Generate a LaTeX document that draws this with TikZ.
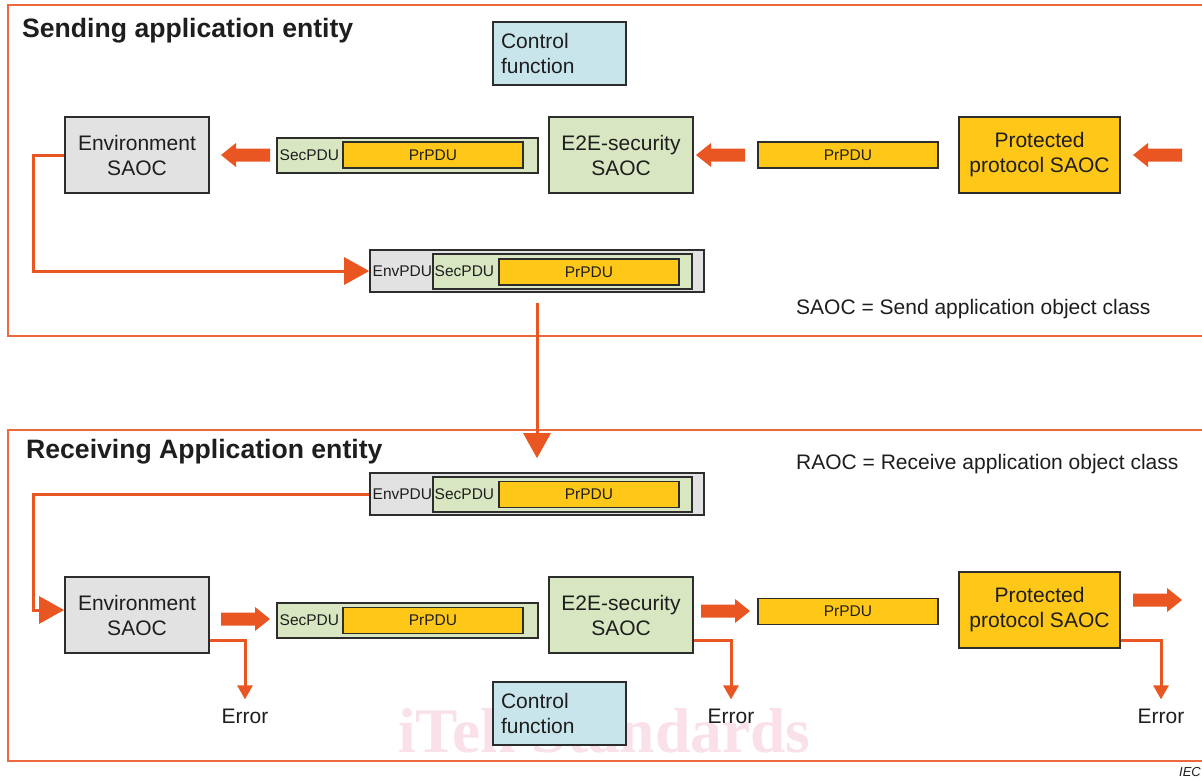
\documentclass[tikz,border=0pt]{standalone}
\usepackage{fontspec}
\setmainfont{Liberation Sans}
\newfontfamily\wmfont{Liberation Serif}
\usetikzlibrary{arrows.meta}
\definecolor{orangeC}{RGB}{234,86,34}
\definecolor{frameC}{RGB}{238,104,62}
\definecolor{lineC}{RGB}{45,45,45}
\definecolor{txtC}{RGB}{30,30,30}
\definecolor{envgray}{RGB}{226,226,226}
\definecolor{secgreen}{RGB}{216,231,193}
\definecolor{pryellow}{RGB}{255,200,24}
\definecolor{ctrlblue}{RGB}{201,229,236}
\definecolor{wmpink}{RGB}{250,224,232}
\tikzset{
  box/.style={draw=lineC, line width=1.8pt, inner sep=0pt, align=center, text=txtC,
    font=\fontsize{21}{25}\selectfont},
  envbox/.style={box, fill=envgray},
  e2ebox/.style={box, fill=secgreen},
  protbox/.style={box, fill=pryellow},
  ctrlbox/.style={box, fill=ctrlblue, align=left, text width=117pt, inner xsep=8pt,
    minimum width=133pt, minimum height=63pt},
  pdu/.style={draw=lineC, line width=1.6pt, inner sep=0pt, text=txtC,
    font=\fontsize{15.5}{18}\selectfont},
  pdulbl/.style={anchor=west, inner sep=0pt, text=txtC, font=\fontsize{15.5}{18}\selectfont},
  conn/.style={draw=orangeC, line width=3pt, -{Triangle[length=25pt,width=27pt]}},
  errc/.style={draw=orangeC, line width=3pt, -{Triangle[length=14pt,width=15pt]}},
  frame/.style={draw=frameC, line width=2pt},
  plain/.style={inner sep=0pt, text=txtC, font=\fontsize{21}{25}\selectfont},
  fatR/.pic={\fill[orangeC] (0,-6.5) -- (34,-6.5) -- (34,-12) -- (49,0) -- (34,12) -- (34,6.5) -- (0,6.5) -- cycle;},
  fatL/.pic={\fill[orangeC] (0,-6.5) -- (-34,-6.5) -- (-34,-12) -- (-49,0) -- (-34,12) -- (-34,6.5) -- (0,6.5) -- cycle;}
}
\begin{document}
\begin{tikzpicture}[x=1pt,y=-1pt]
\useasboundingbox[fill=white] (0,0) rectangle (1202,780);

% watermark
\node[anchor=base west, inner sep=0pt, text=wmpink, font=\wmfont\bfseries\fontsize{63.5}{64}\selectfont] (wm) at (398,752) {iTeh Standards};

% frames
\draw[frame] (1202,5) -- (8,5) -- (8,336) -- (1202,336);
\draw[frame] (1202,430) -- (8,430) -- (8,761) -- (1202,761);

% titles
\node[anchor=base west, inner sep=0pt, text=txtC, font=\bfseries\fontsize{26.6}{30}\selectfont] (t1) at (22,37) {Sending application entity};
\node[anchor=base west, inner sep=0pt, text=txtC, font=\bfseries\fontsize{26.6}{30}\selectfont] (t2) at (26,458) {Receiving Application entity};
\node[plain, anchor=base west] (leg1) at (796,314) {SAOC = Send application object class};
\node[plain, anchor=base west] (leg2) at (796,469) {RAOC = Receive application object class};
\node[anchor=base east, inner sep=0pt, text=txtC, font=\itshape\fontsize{13}{15}\selectfont] (iec) at (1201,776) {IEC};

% ---------------- sending side ----------------
\node[ctrlbox] (ctrlT) at (559.5,53.5) {Control\\function};
\node[envbox, minimum width=144pt, minimum height=76pt] (envT) at (137,155) {Environment\\SAOC};
\node[e2ebox, minimum width=144pt, minimum height=76pt] (e2eT) at (621,155) {E2E-security\\SAOC};
\node[protbox, minimum width=161pt, minimum height=76pt] (protT) at (1039.5,155) {Protected\\protocol SAOC};

\node[pdu, fill=secgreen, minimum width=261pt, minimum height=35pt] (secT) at (407.5,155.5) {};
\node[pdulbl] (secTl) at (279.5,155.5) {SecPDU};
\node[pdu, fill=pryellow, minimum width=180pt, minimum height=26pt] (prT) at (433,155) {PrPDU};
\node[pdu, fill=pryellow, minimum width=180pt, minimum height=26pt] (prT2) at (848,155) {PrPDU};

\pic at (270,155) {fatL};
\pic at (745,155) {fatL};
\pic at (1182,155) {fatL};

% envelope (sending)
\node[pdu, fill=envgray, minimum width=334pt, minimum height=42pt] (envPT) at (537,271) {};
\node[pdulbl] (envPTl) at (372.5,271) {EnvPDU};
\node[pdu, fill=secgreen, minimum width=259pt, minimum height=35pt] (secPT) at (562.5,271.5) {};
\node[pdulbl] (secPTl) at (434.5,271.5) {SecPDU};
\node[pdu, fill=pryellow, minimum width=180pt, minimum height=26pt] (prPT) at (589,272) {PrPDU};

\draw[conn] (envT.west) -- (33,155) |- (envPT.west);

% ---------------- receiving side ----------------
\node[pdu, fill=envgray, minimum width=334pt, minimum height=42pt] (envPB) at (537,494) {};
\node[pdulbl] (envPBl) at (372.5,494) {EnvPDU};
\node[pdu, fill=secgreen, minimum width=259pt, minimum height=35pt] (secPB) at (562.5,494.5) {};
\node[pdulbl] (secPBl) at (434.5,494.5) {SecPDU};
\node[pdu, fill=pryellow, minimum width=180pt, minimum height=26pt] (prPB) at (589,494.5) {PrPDU};

\draw[conn] ([yshift=-10pt]envPT.south) -- ([yshift=14pt]envPB.north);

\node[envbox, minimum width=144pt, minimum height=76pt] (envB) at (137,615) {Environment\\SAOC};
\node[e2ebox, minimum width=144pt, minimum height=76pt] (e2eB) at (621,615) {E2E-security\\SAOC};
\node[protbox, minimum width=161pt, minimum height=76pt] (protB) at (1039.5,610) {Protected\\protocol SAOC};
\node[ctrlbox] (ctrlB) at (559.5,713.5) {Control\\function};

\node[pdu, fill=secgreen, minimum width=261pt, minimum height=35pt] (secB) at (407.5,620.5) {};
\node[pdulbl] (secBl) at (279.5,620.5) {SecPDU};
\node[pdu, fill=pryellow, minimum width=180pt, minimum height=26pt] (prB) at (433,620.5) {PrPDU};
\node[pdu, fill=pryellow, minimum width=180pt, minimum height=26pt] (prB2) at (848,611.5) {PrPDU};

\pic at (221,619) {fatR};
\pic at (701,611) {fatR};
\pic at (1133,600) {fatR};

\draw[conn] (envPB.west) -- (33,494) |- ([yshift=5pt]envB.west);

% errors
\node[plain, anchor=base] (err1) at (245,723) {Error};
\node[plain, anchor=base] (err2) at (731,723) {Error};
\node[plain, anchor=base] (err3) at (1161,723) {Error};
\draw[errc] ([yshift=13pt]envB.south east) -| ([yshift=9pt]err1.north);
\draw[errc] ([yshift=13pt]e2eB.south east) -| ([yshift=9pt]err2.north);
\draw[errc] ([yshift=8pt]protB.south east) -| ([yshift=9pt]err3.north);
\end{tikzpicture}
\end{document}
